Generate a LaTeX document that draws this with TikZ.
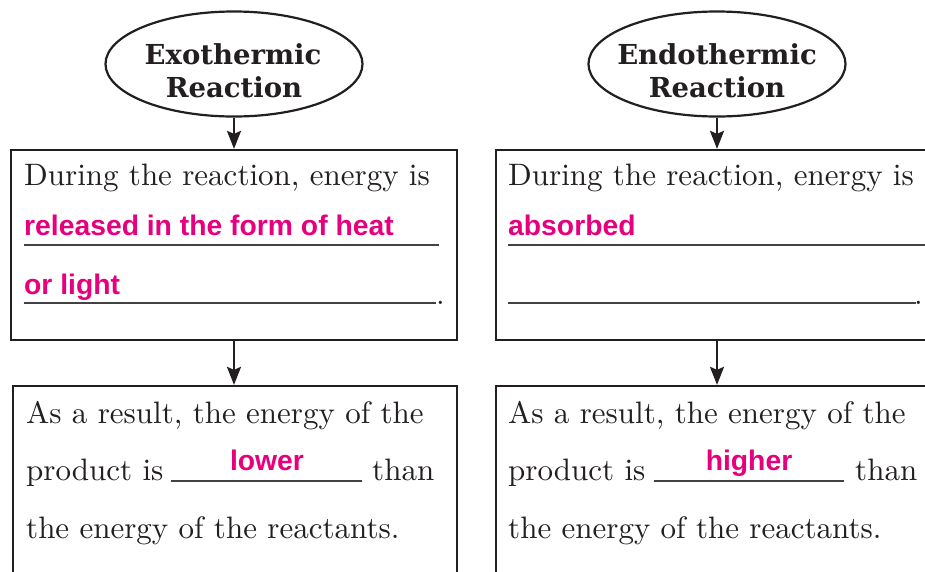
\documentclass[tikz,border=0pt]{standalone}
\usepackage{fontspec}
\usetikzlibrary{shapes.geometric,arrows.meta}
\newfontfamily\pinkfont{Liberation Sans}
\newfontfamily\titlefont{DejaVu Serif}
\newfontfamily\bodyfont{lmroman10-regular}[Extension=.otf]
\definecolor{pk}{HTML}{E6007E}
\definecolor{ink}{HTML}{231F20}
\begin{document}
\begin{tikzpicture}[x=1pt,y=-1pt,
 frame/.style={draw=ink, line width=2.3pt, rectangle, inner sep=0},
 oval/.style={draw=ink, line width=2.2pt, ellipse, inner sep=0, minimum width=257pt, minimum height=105pt},
 arr/.style={draw=ink, line width=2.2pt, -{Stealth[length=18pt,width=14pt,inset=3pt]}},
 body/.style={anchor=base west, inner sep=0, text=ink, font=\bodyfont\fontsize{31}{36}\selectfont},
 ans/.style={inner sep=0, anchor=base west, text=pk, font=\pinkfont\bfseries\fontsize{28.3}{32}\selectfont},
 title/.style={inner sep=0, anchor=base, text=ink, font=\titlefont\bfseries\fontsize{27.5}{32}\selectfont},
 blank/.style={draw=ink!85, line width=1.1pt}]
\clip (0,0) rectangle (925,571);
\fill[white] (0,0) rectangle (925,571);
% ovals
\node[oval] (e1) at (234,64) {};
\node[oval] (e2) at (717,64) {};
\node[title] (e1a) at (233,64) {Exothermic};
\node[title] (e1b) at (234,97) {Reaction};
\node[title] (e2a) at (717,64) {Endothermic};
\node[title] (e2b) at (717,97) {Reaction};
% boxes
\node[frame, minimum width=446pt, minimum height=190pt] (b1) at (234,245) {};
\node[frame, minimum width=444pt, minimum height=214pt] (b2) at (235,493) {};
\node[frame, minimum width=444pt, minimum height=190pt] (b3) at (718,245) {};
\node[frame, minimum width=444pt, minimum height=214pt] (b4) at (718,493) {};
% arrows
\draw[arr] (e1.south) -- (e1.south |- b1.north);
\draw[arr] (e1.south |- b1.south) -- (e1.south |- b2.north);
\draw[arr] (e2.south) -- (e2.south |- b3.north);
\draw[arr] (e2.south |- b3.south) -- (e2.south |- b4.north);
% left top box text
\node[body] (l1) at (24,185) {During the reaction, energy is};
\node[ans] (l2) at (24,235) {released in the form of heat};
\node[ans] (l3) at (24,294) {or light};
\draw[blank] (24,245) -- (439,245);
\draw[blank] (24,303) -- (436,303);
\node[body] (l4) at (436,304) {.};
% right top box text
\node[body] (r1) at (508,185) {During the reaction, energy is};
\node[ans] (r2) at (508,235) {absorbed};
\draw[blank] (508,245) -- (935,245);
\draw[blank] (508,303) -- (916,303);
\node[body] (r4) at (914,304) {.};
% left bottom box text
\node[body] (m1) at (26,423) {As a result, the energy of the};
\node[body] (m2) at (26,480) {product is};
\draw[blank] (171,481) -- (362,481);
\node[ans, anchor=base] (m3) at (267,470) {lower};
\node[body] (m4) at (372,480) {than};
\node[body] (m5) at (26,538) {the energy of the reactants.};
% right bottom box text
\node[body] (n1) at (508,423) {As a result, the energy of the};
\node[body] (n2) at (508,480) {product is};
\draw[blank] (654,481) -- (844,481);
\node[ans, anchor=base] (n3) at (749,470) {higher};
\node[body] (n4) at (855,480) {than};
\node[body] (n5) at (508,538) {the energy of the reactants.};
\end{tikzpicture}
\end{document}
